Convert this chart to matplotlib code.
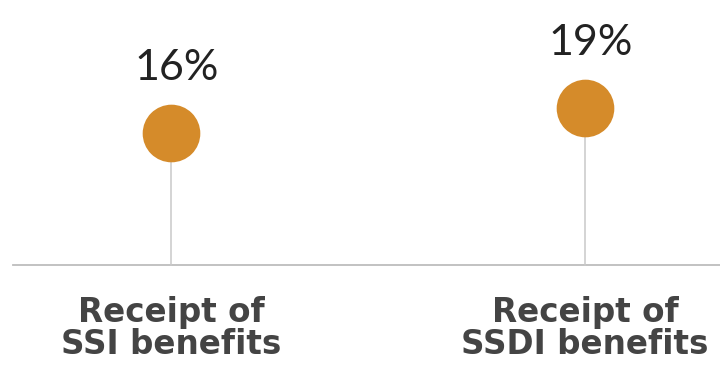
import matplotlib
matplotlib.use("Agg")
import matplotlib.pyplot as plt

categories = ["Receipt of\nSSI benefits", "Receipt of\nSSDI benefits"]
values = [16, 19]
labels = ["16%", "19%"]

DOT = "#d58b2a"
STEM = "#c9c9c9"
TEXT = "#444444"

fig = plt.figure(figsize=(7.2, 3.73), dpi=100)
ax = fig.add_axes([0, 0, 1, 1])
ax.set_xlim(-0.413, 1.326)
ax.set_ylim(-13.1, 32.1)
ax.axis("off")

# baseline
ax.axhline(0, xmin=13 / 720, xmax=1, color="#bdbdbd", lw=1.3, zorder=1)

xs = list(range(len(values)))
for x, v, lab, cat in zip(xs, values, labels, categories):
    ax.plot([x, x], [0, v], color=STEM, lw=1.1, zorder=2)
    ax.plot(x, v, "o", ms=41.5, color=DOT, mec="none", zorder=3)
    ax.annotate(lab, (x, v), xytext=(4, 47), textcoords="offset points",
                ha="center", va="center", fontsize=31, color="#222222",
                family="Lato")
    ax.annotate(cat, (x, 0), xytext=(0, -22.5), textcoords="offset points",
                ha="center", va="top", fontsize=23.5, color=TEXT,
                family="DejaVu Sans", fontweight="bold", linespacing=0.96)

fig.savefig("out.png", dpi=100, facecolor="white")
